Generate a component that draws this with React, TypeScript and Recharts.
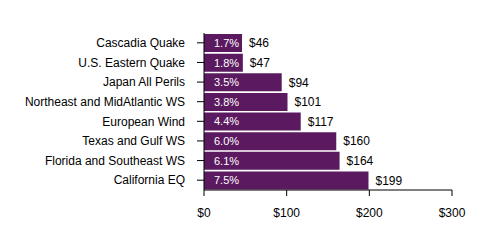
import { BarChart, Bar, XAxis, YAxis, LabelList } from 'recharts';

const perils = [
  'Cascadia Quake',
  'U.S. Eastern Quake',
  'Japan All Perils',
  'Northeast and MidAtlantic WS',
  'European Wind',
  'Texas and Gulf WS',
  'Florida and Southeast WS',
  'California EQ',
];
const losses = [46, 47, 94, 101, 117, 160, 164, 199];
const shares = ['1.7%', '1.8%', '3.5%', '3.8%', '4.4%', '6.0%', '6.1%', '7.5%'];
const xTicks = [0, 100, 200, 300];

const data = perils.map((name, i) => ({ name, loss: losses[i], share: shares[i] }));

const PURPLE = '#5b1a5f';
const FONT = 'Liberation Sans, Arial, sans-serif';

// single-line category labels (the default tick wraps long names)
const PerilTick = (props: any) => {
  const { x, y, payload } = props;
  return (
    <text x={x} y={y} dy="0.355em" textAnchor="end" fill="#000" fontSize={12} fontFamily={FONT}>
      {payload.value}
    </text>
  );
};

const PerilChart = () => (
  <div style={{ fontFamily: FONT }}>
    <BarChart
      width={477}
      height={238}
      data={data}
      layout="vertical"
      margin={{ top: 25, right: 33, bottom: 26, left: 0 }}
      barCategoryGap={1}
    >
      <XAxis
        type="number"
        domain={[0, 300]}
        ticks={xTicks}
        tickFormatter={(v: number) => `$${v}`}
        stroke="#000"
        tickSize={6}
        tickMargin={12}
        tick={{ fill: '#000', fontSize: 12, fontFamily: FONT }}
        height={30}
      />
      <YAxis
        type="category"
        dataKey="name"
        width={196}
        stroke="#000"
        tickSize={7}
        tickMargin={12}
        tick={<PerilTick />}
        interval={0}
      />
      <Bar dataKey="loss" fill={PURPLE} isAnimationActive={false}>
        <LabelList
          dataKey="share"
          position="insideLeft"
          offset={10}
          fill="#fff"
          fontSize={11}
          fontFamily={FONT}
        />
        <LabelList
          dataKey="loss"
          position="right"
          offset={7}
          fill="#000"
          fontSize={12}
          fontFamily={FONT}
          formatter={(v: number) => `$${v}`}
        />
      </Bar>
    </BarChart>
  </div>
);

export default PerilChart;
